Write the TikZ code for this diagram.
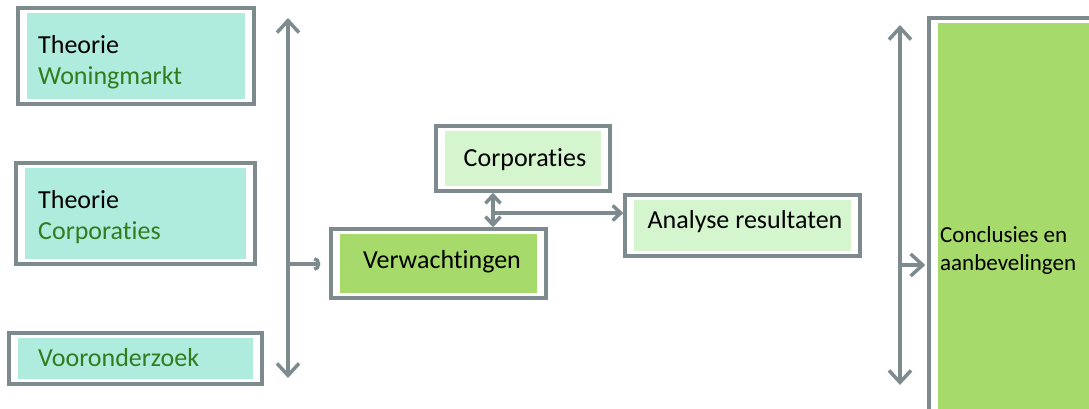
\documentclass[tikz,border=0pt]{standalone}
\usepackage{fontspec}
\setmainfont{Carlito}[Ligatures=NoCommon]
\usetikzlibrary{arrows.meta,calc}
\definecolor{lijngrijs}{RGB}{125,139,143}
\definecolor{mint}{RGB}{176,236,221}
\definecolor{lichtgroen}{RGB}{212,245,206}
\definecolor{groen}{RGB}{166,218,106}
\definecolor{tekstgroen}{RGB}{52,122,30}
\tikzset{
  vak/.style={draw=lijngrijs, line width=3.5pt, inner sep=0pt,
    path picture={\fill[#1] ($(path picture bounding box.south west)+(9pt,5pt)$)
      rectangle ($(path picture bounding box.north east)+(-9pt,-5pt)$);}},
  tekst/.style={font=\fontsize{26}{31}\selectfont, inner sep=0pt},
  pijl/.style={draw=lijngrijs, line width=3.5pt},
  klein/.style={>={Straight Barb[length=8pt,width=15pt]}}
}
\begin{document}
\begin{tikzpicture}[x={(1pt,0)}, y={(0,-1pt)}, >={Straight Barb[length=12pt,width=22pt]}]
  \useasboundingbox (0,0) rectangle (1089,409);
  % theorie en vooronderzoek
  \node[vak=mint, minimum width=236pt, minimum height=96pt] (woning) at (136,56) {};
  \node[vak=mint, minimum width=239pt, minimum height=101pt] (theocorp) at (135.5,213.5) {};
  \node[vak=mint, minimum width=253pt, minimum height=51pt] (vooronder) at (135.5,358.5) {};
  \node[tekst, anchor=west, align=left] (woningtxt) at (38,62) {Theorie\\\textcolor{tekstgroen}{Woningmarkt}};
  \node[tekst, anchor=west, align=left] (theocorptxt) at (38,217) {Theorie\\\textcolor{tekstgroen}{Corporaties}};
  \node[tekst, anchor=west, text=tekstgroen] (voorondertxt) at (38,358) {Vooronderzoek};
  % midden
  \node[vak=lichtgroen, minimum width=174pt, minimum height=65pt] (corp) at (523,158.5) {};
  \node[vak=groen, minimum width=215pt, minimum height=69pt] (verw) at (438.5,263.5) {};
  \node[vak=lichtgroen, minimum width=235pt, minimum height=61pt] (analyse) at (742.5,225.5) {};
  \node[tekst] (corptxt) at (525,160) {Corporaties};
  \node[tekst] (verwtxt) at (442,262) {Verwachtingen};
  \node[tekst] (analysetxt) at (745,222) {Analyse resultaten};
  % conclusies
  \node[vak=groen, minimum width=171pt, minimum height=402pt] (concl) at (1014.5,219) {};
  \node[font=\fontsize{23}{28}\selectfont, inner sep=0pt, anchor=west, align=left] (concltxt) at (940,250) {Conclusies en\\aanbevelingen};
  % pijlen
  \coordinate (lboven) at (288,18);
  \coordinate (londer) at (288,378);
  \coordinate (ltak) at (288,264);
  \coordinate (knoop) at (493,213);
  \coordinate (rboven) at (900,25);
  \coordinate (ronder) at (900,385);
  \coordinate (rtak) at (900,265);
  \draw[pijl,<->] (lboven) -- (londer);
  \draw[pijl,-{Arc Barb[length=6pt,width=14pt]}, shorten >=9pt] (ltak) -- (ltak -| verw.west);
  \draw[pijl,klein,<->] (knoop |- corp.south) -- (knoop |- verw.north);
  \draw[pijl,klein,->] (knoop) -- (knoop -| analyse.west);
  \draw[pijl,<->] (rboven) -- (ronder);
  \draw[pijl,->, shorten >=2pt] (rtak) -- (rtak -| concl.west);
\end{tikzpicture}
\end{document}
